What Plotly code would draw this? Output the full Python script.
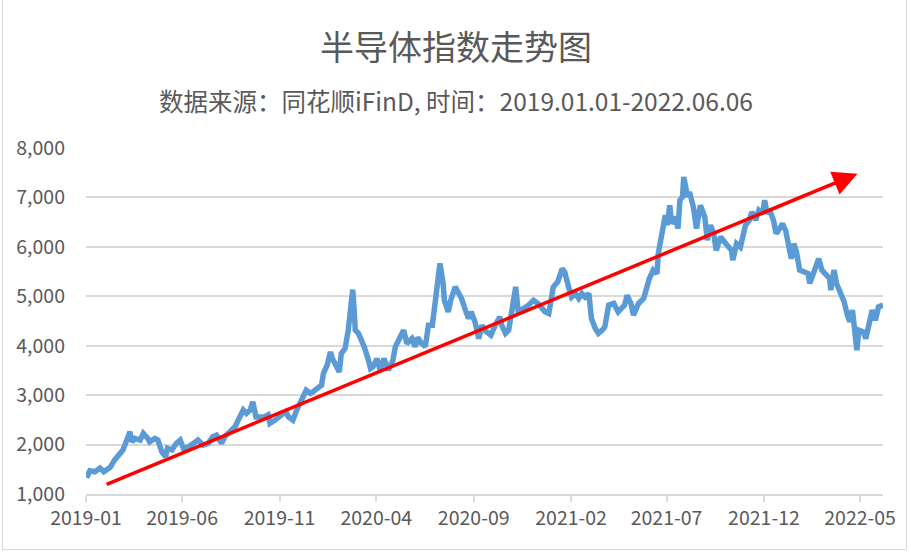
import plotly.graph_objects as go

# ---- data ----
dates = [
    "2019-01-02","2019-01-07","2019-01-15","2019-01-23","2019-01-29","2019-02-08","2019-02-15","2019-02-22",
    "2019-02-28","2019-03-06","2019-03-11","2019-03-14","2019-03-19","2019-03-27","2019-04-01","2019-04-08",
    "2019-04-11","2019-04-19","2019-04-24","2019-04-30","2019-05-06","2019-05-09","2019-05-16","2019-05-23",
    "2019-05-29","2019-06-03","2019-06-11","2019-06-19","2019-06-26","2019-07-04","2019-07-12","2019-07-19",
    "2019-07-25","2019-08-02","2019-08-07","2019-08-15","2019-08-23","2019-09-05","2019-09-10","2019-09-16",
    "2019-09-20","2019-09-25","2019-10-08","2019-10-14","2019-10-17","2019-10-25","2019-11-01","2019-11-11",
    "2019-11-15","2019-11-22","2019-11-28","2019-12-06","2019-12-13","2019-12-20","2019-12-30","2020-01-06",
    "2020-01-09","2020-01-15","2020-01-20","2020-01-23","2020-02-03","2020-02-06","2020-02-12","2020-02-17",
    "2020-02-21","2020-02-24","2020-02-26","2020-02-28","2020-03-04","2020-03-09","2020-03-13","2020-03-19",
    "2020-03-23","2020-03-27","2020-04-02","2020-04-07","2020-04-13","2020-04-20","2020-04-27","2020-05-01",
    "2020-05-06","2020-05-14","2020-05-19","2020-05-27","2020-06-01","2020-06-05","2020-06-11","2020-06-17",
    "2020-06-22","2020-06-28","2020-07-02","2020-07-08","2020-07-10","2020-07-15","2020-07-17","2020-07-23",
    "2020-07-27","2020-08-03","2020-08-07","2020-08-13","2020-08-19","2020-08-24","2020-08-28","2020-09-03",
    "2020-09-09","2020-09-14","2020-09-18","2020-09-28","2020-10-05","2020-10-12","2020-10-15","2020-10-21",
    "2020-10-26","2020-10-30","2020-11-06","2020-11-10","2020-11-18","2020-11-26","2020-12-04","2020-12-11",
    "2020-12-22","2020-12-28","2021-01-04","2021-01-11","2021-01-18","2021-01-22","2021-01-28","2021-02-02",
    "2021-02-08","2021-02-13","2021-02-18","2021-02-23","2021-03-01","2021-03-05","2021-03-11","2021-03-16",
    "2021-03-22","2021-03-26","2021-04-01","2021-04-09","2021-04-16","2021-04-26","2021-04-30","2021-05-06",
    "2021-05-10","2021-05-18","2021-05-26","2021-06-01","2021-06-04","2021-06-10","2021-06-16","2021-06-18",
    "2021-06-22","2021-06-25","2021-06-29","2021-07-02","2021-07-06","2021-07-09","2021-07-15","2021-07-19",
    "2021-07-22","2021-07-26","2021-07-28","2021-07-30","2021-08-03","2021-08-06","2021-08-12","2021-08-17",
    "2021-08-23","2021-08-30","2021-09-03","2021-09-08","2021-09-13","2021-09-17","2021-09-24","2021-10-02",
    "2021-10-11","2021-10-13","2021-10-19","2021-10-25","2021-10-29","2021-11-02","2021-11-08","2021-11-12",
    "2021-11-18","2021-11-23","2021-11-29","2021-12-02","2021-12-06","2021-12-10","2021-12-16","2021-12-20",
    "2021-12-24","2021-12-30","2022-01-04","2022-01-10","2022-01-13","2022-01-17","2022-01-21","2022-01-26",
    "2022-02-01","2022-02-08","2022-02-11","2022-02-17","2022-02-22","2022-02-25","2022-03-02","2022-03-08",
    "2022-03-14","2022-03-16","2022-03-21","2022-03-25","2022-03-31","2022-04-06","2022-04-11","2022-04-15",
    "2022-04-19","2022-04-22","2022-04-26","2022-04-29","2022-05-06","2022-05-10","2022-05-16","2022-05-20",
    "2022-05-25","2022-05-30","2022-06-06",
]
index_values = [
    1330,1470,1450,1525,1450,1540,1690,1820,
    1890,2090,2260,2055,2125,2090,2225,2125,
    2055,2125,2090,1855,1755,1925,1890,2025,
    2090,1925,1955,2025,2090,1990,2025,2160,
    2190,2025,2160,2260,2360,2700,2630,2700,
    2865,2560,2560,2600,2430,2495,2560,2665,
    2560,2495,2700,2935,3100,3035,3135,3200,
    3440,3610,3875,3740,3470,3840,3945,4315,
    4785,5135,4785,4315,4250,4115,3980,3740,
    3540,3575,3740,3505,3740,3505,3700,3980,
    4115,4315,4045,4145,3980,4165,4045,3980,
    4415,4415,4820,5530,5665,5260,4920,4685,
    4920,5190,5090,4955,4720,4550,4685,4485,
    4145,4415,4315,4215,4415,4585,4415,4250,
    4315,4585,5190,4685,4750,4820,4920,4855,
    4685,4650,5190,5290,5560,5490,5190,4985,
    5055,4955,5055,4985,5055,4550,4350,4250,
    4315,4380,4820,4855,4685,4820,5020,4855,
    4620,4855,4955,5260,5360,5530,5460,5865,
    6135,6335,6640,6440,6840,6470,6605,6370,
    6945,7010,7415,7280,7010,7110,6810,6370,
    6840,6605,6135,6440,6270,5930,6200,6065,
    5930,5730,6065,5995,6235,6440,6540,6705,
    6540,6740,6670,6945,6670,6740,6540,6270,
    6335,6470,6335,5995,5760,6065,5900,5530,
    5490,5460,5260,5460,5595,5760,5530,5460,
    5360,5125,5530,5260,5055,4885,4620,4485,
    4720,4315,3910,4315,4280,4145,4485,4720,
    4515,4785,4820,
]

# trend arrow (start -> end), in data units
arrow_start = ("2019-01-31", 1180)
arrow_end = ("2022-04-27", 7480)

title_text = "半导体指数走势图"
subtitle_text = "数据来源：同花顺iFinD, 时间：2019.01.01-2022.06.06"

# ---- layout constants ----
W, H = 911, 553
ML, MR, MT, MB = 86, 28, 148, 59
PW, PH = W - ML - MR, H - MT - MB
TEXT = "#595959"
GRID = "#D9D9D9"
FONT = "Noto Sans CJK SC"


def px_x(px):
    return (px - ML) / PW


def px_y(py):
    return (H - MB - py) / PH


fig = go.Figure()
fig.add_trace(go.Scatter(
    x=dates, y=index_values, mode="lines",
    line=dict(color="#5B9BD5", width=5.5),
    hoverinfo="x+y", showlegend=False,
))

fig.add_annotation(
    x=arrow_end[0], y=arrow_end[1], ax=arrow_start[0], ay=arrow_start[1],
    xref="x", yref="y", axref="x", ayref="y",
    text="", showarrow=True, arrowhead=2, arrowsize=1.4, arrowwidth=3.5,
    arrowcolor="#FF0000", standoff=0, startstandoff=0,
)

fig.add_annotation(
    text=title_text, xref="paper", yref="paper", x=px_x(W / 2), y=px_y(45),
    xanchor="center", yanchor="middle", showarrow=False,
    font=dict(family=FONT, size=34, color=TEXT),
)
fig.add_annotation(
    text=subtitle_text, xref="paper", yref="paper", x=px_x(W / 2), y=px_y(100),
    xanchor="center", yanchor="middle", showarrow=False,
    font=dict(family=FONT, size=24.5, color=TEXT),
)

# chart border
fig.add_shape(
    type="rect", xref="paper", yref="paper",
    x0=px_x(2.5), x1=px_x(906.5), y0=px_y(549.5), y1=px_y(-5),
    line=dict(color=GRID, width=1), fillcolor="rgba(0,0,0,0)", layer="below",
)

fig.update_layout(
    width=W, height=H,
    margin=dict(l=ML, r=MR, t=MT, b=MB, autoexpand=False),
    paper_bgcolor="white", plot_bgcolor="white",
    font=dict(family=FONT, color=TEXT, size=19.5),
    xaxis=dict(
        type="date", range=["2019-01-01", "2022-06-06"], automargin=False,
        tick0="2019-01-01", dtick="M5", tickformat="%Y-%m",
        showgrid=False, showline=True, linecolor=GRID, linewidth=1.5,
        ticks="outside", ticklen=6, tickcolor=GRID, tickwidth=1.5,
        tickfont=dict(family=FONT, size=19.5, color=TEXT), zeroline=False,
    ),
    yaxis=dict(
        range=[1000, 8000], dtick=1000, tickformat=",", automargin=False,
        showgrid=True, gridcolor=GRID, gridwidth=1.5,
        showline=False, zeroline=False, ticks="",
        ticklabelstandoff=20,
        tickfont=dict(family=FONT, size=19.5, color=TEXT),
    ),
)

fig.write_html(
    "out.html",
    config={"displayModeBar": False},
    post_script="document.body.style.margin='0';document.body.style.padding='0';",
)
